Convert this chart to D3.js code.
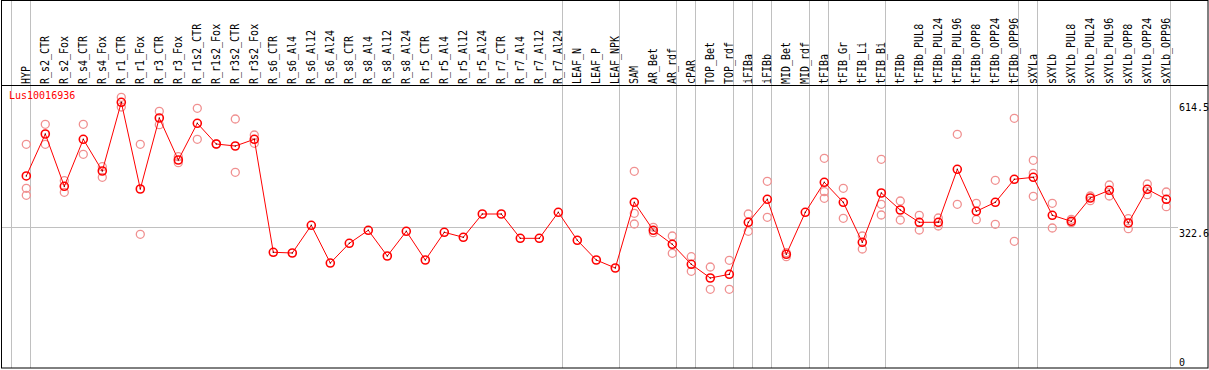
<!DOCTYPE html>
<html>
<head>
<script src="https://cdnjs.cloudflare.com/ajax/libs/d3/7.8.5/d3.min.js"></script>
<style>
  body { margin: 0; background: #fff; }
  text { font-family: "DejaVu Sans Mono", monospace; font-size: 10px; }
</style>
</head>
<body>
<script>
var gene = "Lus10016936";

var categories = [
  "HYP", "R_s2_CTR", "R_s2_Fox", "R_s4_CTR", "R_s4_Fox", "R_r1_CTR", "R_r1_Fox",
  "R_r3_CTR", "R_r3_Fox", "R_r1s2_CTR", "R_r1s2_Fox", "R_r3s2_CTR", "R_r3s2_Fox",
  "R_s6_CTR", "R_s6_Al4", "R_s6_Al12", "R_s6_Al24", "R_s8_CTR", "R_s8_Al4",
  "R_s8_Al12", "R_s8_Al24", "R_r5_CTR", "R_r5_Al4", "R_r5_Al12", "R_r5_Al24",
  "R_r7_CTR", "R_r7_Al4", "R_r7_Al12", "R_r7_Al24", "LEAF_N", "LEAF_P", "LEAF_NPK",
  "SAM", "AR_Bet", "AR_rdf", "cPAR", "TOP_Bet", "TOP_rdf", "iFIBa", "iFIBb",
  "MID_Bet", "MID_rdf", "tFIBa", "tFIB_Gr", "tFIB_Li", "tFIB_Bi", "tFIBb",
  "tFIBb_PUL8", "tFIBb_PUL24", "tFIBb_PUL96", "tFIBb_OPP8", "tFIBb_OPP24", "tFIBb_OPP96",
  "sXYLa", "sXYLb", "sXYLb_PUL8", "sXYLb_PUL24", "sXYLb_PUL96", "sXYLb_OPP8",
  "sXYLb_OPP24", "sXYLb_OPP96"
];

// mean expression per sample
var means = [
  443.0, 540.7, 419.0, 528.4, 454.6, 614.5, 412.7, 578.0, 480.2, 565.6, 517.4, 512.8, 528.4,
  265.4, 263.7, 328.2, 240.4, 286.3, 316.6, 256.7, 314.2, 247.4, 311.9, 300.3, 354.5,
  354.5, 297.9, 297.9, 358.5, 293.3, 247.4, 228.8,
  381.7, 316.6, 284.0, 237.4, 205.5, 214.1, 335.2, 388.7,
  260.7, 358.5, 428.3, 381.7, 288.6, 403.4, 363.8,
  335.2, 335.2, 458.5, 360.8, 381.7, 435.3,
  439.9, 351.5, 337.5, 391.7, 409.7, 333.6, 412.0, 388.7
];

// individual replicates
var replicates = [
  [516.7, 414.3, 398.0], [563.3, 516.7], [432.0, 405.0], [563.3, 493.5], [464.6, 439.9],
  [626.1, 603.6], [516.7, 307.3], [593.6, 562.4], [487.9, 473.9], [600.5, 528.4],
  [517.4], [575.6, 451.6], [538.4, 519.1],
  [], [], [], [], [], [], [], [], [], [], [], [], [], [], [], [], [], [], [],
  [453.9, 356.1, 331.2], [323.5, 311.0], [303.3, 263.0], [255.1, 221.1], [231.1, 179.2],
  [246.7, 179.2], [354.5, 314.2], [430.6, 346.8], [264.4, 255.1], [],
  [484.2, 406.4, 391.0], [414.3, 344.5], [303.3, 273.0], [481.8, 377.1, 352.2], [384.8, 340.5],
  [351.5, 317.3], [345.2, 326.6], [540.0, 377.1], [379.4, 341.2], [432.9, 330.5], [577.3, 291.0],
  [479.5, 449.2, 395.7], [379.4, 321.9], [342.2, 334.3], [396.4, 385.5], [422.0, 396.4],
  [343.6, 320.3], [424.3, 399.4], [405.7, 371.5]
];

// separators drawn after these samples
var groupEnds = ["HYP", "R_r7_Al24", "LEAF_NPK", "AR_rdf", "cPAR", "TOP_rdf", "iFIBa", "iFIBb",
  "MID_rdf", "tFIBa", "tFIB_Bi", "tFIBb_OPP96", "sXYLa", "sXYLb_OPP96"];

var yTicks = [0, 322.6, 614.5];

var W = 1209, H = 370;
var svg = d3.select("body").append("svg")
  .attr("width", W)
  .attr("height", H);

var x = d3.scalePoint().domain(categories).range([26.3, 1166.3]);
var y = d3.scaleLinear().domain([0, 614.5]).range([366.3, 102.3]);
var step = x.step();

// vertical separators
var sepX = [x(categories[0]) - step].concat(groupEnds.map(function(c) { return x(c); }));
svg.selectAll("line.sep")
  .data(sepX)
  .enter().append("line")
  .attr("class", "sep")
  .attr("x1", function(d) { return Math.round(d + 4) + 0.5; })
  .attr("x2", function(d) { return Math.round(d + 4) + 0.5; })
  .attr("y1", 0)
  .attr("y2", 368)
  .style("stroke", "#c0c0c0");

// middle grid line
svg.append("line")
  .attr("x1", 1).attr("x2", 1178)
  .attr("y1", Math.floor(y(yTicks[1])) + 0.5)
  .attr("y2", Math.floor(y(yTicks[1])) + 0.5)
  .style("stroke", "#c0c0c0");

// frame + header separator
svg.append("rect")
  .attr("x", 1.5).attr("y", 0.5)
  .attr("width", 1206.5).attr("height", 367.5)
  .style("fill", "none").style("stroke", "#000");
svg.append("line")
  .attr("x1", 1).attr("x2", 1208)
  .attr("y1", 85.5).attr("y2", 85.5)
  .style("stroke", "#000");

// sample labels (vertical)
svg.selectAll("text.cat")
  .data(categories)
  .enter().append("text")
  .attr("class", "cat")
  .attr("transform", function(d) { return "translate(" + (x(d) + 4) + ",84) rotate(-90) scale(1,1.15)"; })
  .text(function(d) { return d; });

// y labels on the right
svg.selectAll("text.yl")
  .data(yTicks)
  .enter().append("text")
  .attr("class", "yl")
  .attr("x", 1179)
  .attr("y", function(d) { return Math.min(y(d) + 9, 365.5); })
  .text(function(d) { return d; });

svg.append("text")
  .attr("x", 9)
  .attr("y", 99)
  .style("fill", "red")
  .text(gene);

// replicate points
var repPts = [];
replicates.forEach(function(r, i) {
  r.forEach(function(v) { repPts.push({c: categories[i], v: v}); });
});
svg.selectAll("circle.rep")
  .data(repPts)
  .enter().append("circle")
  .attr("class", "rep")
  .attr("cx", function(d) { return x(d.c); })
  .attr("cy", function(d) { return y(d.v); })
  .attr("r", 4)
  .style("fill", "none")
  .style("stroke", "#f09090")
  .style("stroke-width", 1.3);

// mean line
var line = d3.line()
  .x(function(d, i) { return x(categories[i]); })
  .y(function(d) { return y(d); });
svg.append("path")
  .attr("d", line(means))
  .style("fill", "none")
  .style("stroke", "red")
  .style("stroke-width", 1);

svg.selectAll("circle.mean")
  .data(means)
  .enter().append("circle")
  .attr("class", "mean")
  .attr("cx", function(d, i) { return x(categories[i]); })
  .attr("cy", function(d) { return y(d); })
  .attr("r", 4)
  .style("fill", "none")
  .style("stroke", "red")
  .style("stroke-width", 1.6);

svg.selectAll("circle.dot")
  .data(means)
  .enter().append("circle")
  .attr("class", "dot")
  .attr("cx", function(d, i) { return x(categories[i]); })
  .attr("cy", function(d) { return y(d); })
  .attr("r", 0.7)
  .style("fill", "#400");
</script>
</body>
</html>
